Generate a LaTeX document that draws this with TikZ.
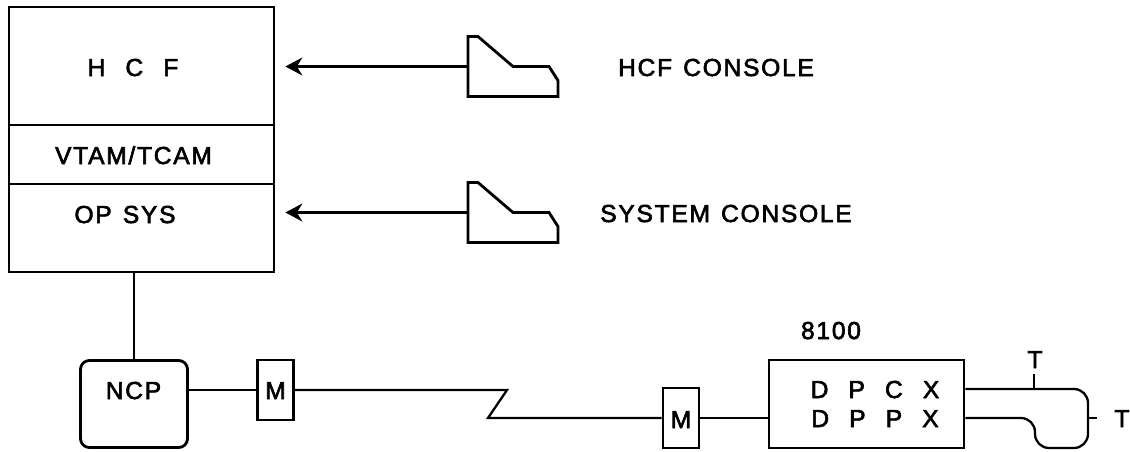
\documentclass[tikz,border=0pt]{standalone}
\usepackage{fontspec}
\setmainfont[LetterSpace=7,FakeBold=2.5,WordSpace=1.3]{Liberation Sans}
\newfontfamily\widefont[LetterSpace=7,FakeBold=2.5,WordSpace=2.35]{Liberation Sans}
\usetikzlibrary{arrows.meta,positioning}

\begin{document}
\begin{tikzpicture}[
  x=0.02cm, y=-0.02cm,
  font=\fontsize{14}{16}\selectfont,
  box/.style={rectangle, draw=black, line width=1.6pt, align=center, inner sep=0pt},
  hostbox/.style={box, minimum width=5.3cm},
  modem/.style={box, minimum width=0.72cm, minimum height=1.2cm},
  label/.style={inner sep=0pt, anchor=base},
  widelabel/.style={label, font=\widefont\fontsize{14}{16}\selectfont},
  link/.style={line width=1.3pt},
  arrow/.style={-{Stealth[length=3.4mm,width=3.6mm]}, line width=1.3pt, shorten >=2.0mm},
  consolepic/.pic={\draw[line width=1.6pt] (0,0) -- (0,-30) -- (10,-30) -- (45,0) -- (81,0) -- (90,14) -- (90,30) -- (0,30) -- cycle;}
]
\useasboundingbox (0,0) rectangle (1130,451);

\node[hostbox, minimum height=2.36cm] (hcf) at (141.5,66) {};
\node[hostbox, minimum height=1.18cm] (vtam) at (141.5,154.5) {};
\node[hostbox, minimum height=1.76cm] (opsys) at (141.5,228) {};
\node[box, rounded corners=5pt, minimum width=2.14cm, minimum height=1.74cm] (ncp) at (134,404) {};
\node[modem] (m1) at (275.5,390) {};
\node[modem] (m2) at (681,418) {};
\node[box, minimum width=3.9cm, minimum height=1.76cm] (dpcx) at (866.5,404) {};

\node[widelabel] at (133,76) {H C F};
\node[label] at (133.5,164) {VTAM/TCAM};
\node[label] at (125,223) {OP SYS};
\node[label] at (133.5,399) {NCP};
\node[label] at (275.5,399) {M};
\node[label] at (681,428) {M};
\node[widelabel] at (875,398) {D P C X};
\node[widelabel] at (875,427) {D P P X};
\node[label] at (716,76) {HCF CONSOLE};
\node[label] at (726,222) {SYSTEM CONSOLE};
\node[label] at (831,339) {8100};
\node[label] (term1) at (1035,368) {T};
\node[label] (term2) at (1122,427) {T};

% consoles
\coordinate (hcfcon) at (468,66.5);
\coordinate (syscon) at (468,212.5);
\pic at (hcfcon) {consolepic};
\pic at (syscon) {consolepic};
\draw[arrow] (hcfcon) -- (hcfcon -| hcf.east);
\draw[arrow] (syscon) -- (syscon -| opsys.east);

\coordinate (zigtop) at (507,390);
\coordinate (zigbot) at (488,418);
\coordinate (looptop) at (1034,389);
\coordinate (loopbot) at (1035,418);
\coordinate (loopside) at (1088,418);
\coordinate (stubtop) at (1034,374);
\coordinate (stubside) at (1097,418);

\draw[link] (ncp.north) -- (ncp.north |- opsys.south);
\draw[link] (ncp.east |- m1.west) -- (m1.west);
\draw[link] (m1.east) -- (zigtop) -- (zigbot) -- (m2.west);
\draw[link] (m2.east) -- (dpcx.west |- m2.east);
\draw[link, rounded corners=8pt] (dpcx.east |- looptop) -- (1088,389) -- (1088,448) -- (1035,448) -- (loopbot) -- (dpcx.east |- loopbot);
\draw[link] (looptop) -- (stubtop);
\draw[link] (loopside) -- (stubside);

\end{tikzpicture}
\end{document}
